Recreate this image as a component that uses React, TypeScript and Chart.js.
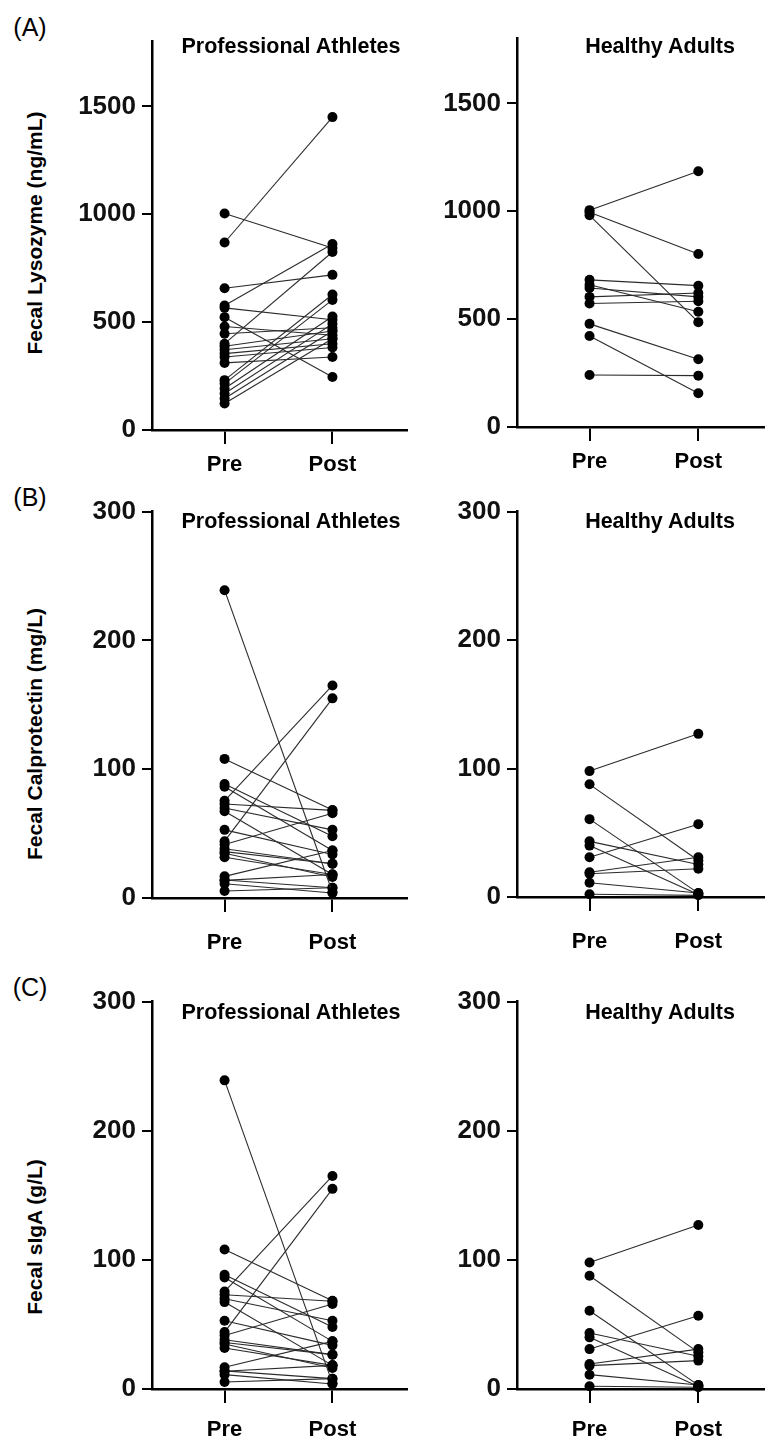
import React, { useEffect, useRef } from 'react';
import { Chart, registerables } from 'chart.js';

Chart.register(...registerables);

const FONT = '"Liberation Sans", Arial, sans-serif';

const timepoints = ['Pre', 'Post'];
const groupTitles = ['Professional Athletes', 'Healthy Adults'];

// (A) Fecal lysozyme (ng/mL)
const lysoTicks = [0, 500, 1000, 1500];
const lysoAthletesPre = [1003, 869, 657, 577, 566, 523, 480, 446, 400, 388, 372, 354, 338, 311, 231, 215, 192, 169, 146, 123];
const lysoAthletesPost = [843, 1450, 719, 862, 511, 246, 439, 474, 825, 459, 423, 400, 382, 338, 628, 603, 526, 492, 459, 423];
const lysoHealthyPre = [1005, 995, 981, 682, 659, 644, 603, 572, 478, 422, 241];
const lysoHealthyPost = [1185, 802, 486, 655, 534, 603, 621, 583, 314, 156, 238];

// (B) Fecal calprotectin (mg/L)
const calTicks = [0, 100, 200, 300];
const calAthletesPre = [239, 108, 88.5, 86.4, 75.5, 73, 69.9, 67.3, 52.9, 44.1, 41.5, 38.2, 36, 34.8, 31.7, 16.8, 13.7, 14, 11.1, 5.4];
const calAthletesPost = [4.5, 68.3, 48, 36.9, 165, 68, 52.9, 18.3, 33.8, 155, 65.8, 26.6, 26.6, 16.3, 18.3, 36.9, 18.3, 8, 3.9, 8];
const calHealthyPre = [98, 87.7, 60.6, 43.3, 40, 30.9, 19.3, 18.1, 11.1, 2.1];
const calHealthyPost = [127, 28.4, 3, 25.3, 2, 56.7, 30.9, 22, 3.1, 1.3];

// (C) Fecal sIgA (g/L)
const igaTicks = [0, 100, 200, 300];
const igaAthletesPre = [239, 108, 88.5, 86.4, 75.5, 73, 69.9, 67.3, 52.9, 44.1, 41.5, 38.2, 36, 34.8, 31.7, 16.8, 13.7, 14, 11.1, 5.4];
const igaAthletesPost = [4.5, 68.3, 48, 36.9, 165, 68, 52.9, 18.3, 33.8, 155, 65.8, 26.6, 26.6, 16.3, 18.3, 36.9, 18.3, 8, 3.9, 8];
const igaHealthyPre = [98, 87.7, 60.6, 43.3, 40, 30.9, 19.3, 18.1, 11.1, 2.1];
const igaHealthyPost = [127, 28.4, 3, 25.3, 2, 56.7, 30.9, 22, 3.1, 1.3];

const Y_W = 92;
const X_H = 70;
const PAD_TOP = 20;

type PanelProps = {
  left: number; top: number; right: number; bottom: number;
  pre: number[]; post: number[]; yMax: number; ticks: number[];
  xMin: number; xMax: number; labelPad: number;
};

function Panel({ left, top, right, bottom, pre, post, yMax, ticks, xMin, xMax, labelPad }: PanelProps) {
  const ref = useRef<HTMLCanvasElement | null>(null);
  const cl = left - Y_W;
  const ct = top - PAD_TOP;
  const w = right - cl;
  const h = bottom - ct + X_H;
  useEffect(() => {
    if (!ref.current) return;
    const datasets = pre.map((v, i) => ({
      data: [{ x: 0, y: v }, { x: 1, y: post[i] }],
      borderColor: '#2b2b2b',
      borderWidth: 1.1,
      pointRadius: 5,
      pointHoverRadius: 5,
      pointBackgroundColor: '#000',
      pointBorderColor: '#000',
      pointBorderWidth: 0,
      showLine: true,
      clip: false as any,
    }));
    const chart = new Chart(ref.current, {
      type: 'line',
      data: { datasets },
      options: {
        animation: false,
        responsive: false,
        maintainAspectRatio: false,
        devicePixelRatio: 1,
        events: [],
        layout: { padding: { top: PAD_TOP, left: 0, right: 0, bottom: 0 } },
        plugins: { legend: { display: false }, tooltip: { enabled: false }, title: { display: false } },
        scales: {
          x: {
            type: 'linear',
            min: xMin,
            max: xMax,
            afterBuildTicks: (s: any) => { s.ticks = timepoints.map((_, i) => ({ value: i })); },
            afterFit: (s: any) => { s.height = X_H; },
            ticks: {
              callback: (v: any) => timepoints[v] ?? '',
              font: { family: FONT, size: 22, weight: 'bold' },
              color: '#000',
              padding: labelPad,
              maxRotation: 0,
              autoSkip: false,
            },
            grid: { drawOnChartArea: false, drawTicks: true, tickLength: 14, color: '#000', tickColor: '#000', lineWidth: 2, tickWidth: 2 },
            border: { display: true, color: '#000', width: 2.5 },
          },
          y: {
            type: 'linear',
            min: 0,
            max: yMax,
            afterBuildTicks: (s: any) => { s.ticks = ticks.map((v) => ({ value: v })); },
            afterFit: (s: any) => { s.width = Y_W; },
            ticks: {
              callback: (v: any) => String(v),
              font: { family: FONT, size: 26, weight: 'bold' },
              color: '#111',
              padding: 6,
            },
            grid: { drawOnChartArea: false, drawTicks: true, tickLength: 10, color: '#000', tickColor: '#000', lineWidth: 2, tickWidth: 2 },
            border: { display: true, color: '#000', width: 2.5 },
          },
        },
      } as any,
    });
    return () => chart.destroy();
  }, []);
  return (
    <canvas
      ref={ref}
      width={w}
      height={h}
      style={{ position: 'absolute', left: cl, top: ct, width: w, height: h }}
    />
  );
}

const textBase: React.CSSProperties = {
  position: 'absolute',
  fontFamily: FONT,
  color: '#000',
  whiteSpace: 'nowrap',
  lineHeight: 1,
};

function Label({ text, cx, cy, size, bold, rotate }: { text: string; cx: number; cy: number; size: number; bold?: boolean; rotate?: boolean }) {
  return (
    <div
      style={{
        ...textBase,
        left: cx,
        top: cy,
        fontSize: size,
        fontWeight: bold ? 'bold' : 'normal',
        transform: `translate(-50%, -50%)${rotate ? ' rotate(-90deg)' : ''}`,
      }}
    >
      {text}
    </div>
  );
}

const LX = { left: 152, right: 412, xMin: -74 / 110, xMax: 186 / 110 };
const RX = { left: 517, right: 769, xMin: -74 / 111, xMax: 178 / 111 };

export default function App() {
  return (
    <div style={{ position: 'absolute', left: 0, top: 0, width: 769, height: 1441, background: '#fff', overflow: 'hidden' }}>
      <Panel {...LX} top={40} bottom={430} labelPad={8} pre={lysoAthletesPre} post={lysoAthletesPost} yMax={1800} ticks={lysoTicks} />
      <Panel {...RX} top={37} bottom={427} labelPad={8} pre={lysoHealthyPre} post={lysoHealthyPost} yMax={1800} ticks={lysoTicks} />
      <Panel {...LX} top={510} bottom={898} labelPad={18} pre={calAthletesPre} post={calAthletesPost} yMax={300} ticks={calTicks} />
      <Panel {...RX} top={510} bottom={897} labelPad={18} pre={calHealthyPre} post={calHealthyPost} yMax={300} ticks={calTicks} />
      <Panel {...LX} top={1000} bottom={1389} labelPad={14} pre={igaAthletesPre} post={igaAthletesPost} yMax={300} ticks={igaTicks} />
      <Panel {...RX} top={1000} bottom={1389} labelPad={14} pre={igaHealthyPre} post={igaHealthyPost} yMax={300} ticks={igaTicks} />

      <Label text="(A)" cx={30} cy={27} size={25} />
      <Label text="(B)" cx={30} cy={497} size={25} />
      <Label text="(C)" cx={30} cy={987} size={25} />

      <Label text={groupTitles[0]} cx={291} cy={47} size={21.5} bold />
      <Label text={groupTitles[1]} cx={660} cy={47} size={21.5} bold />
      <Label text={groupTitles[0]} cx={291} cy={522} size={21.5} bold />
      <Label text={groupTitles[1]} cx={660} cy={522} size={21.5} bold />
      <Label text={groupTitles[0]} cx={291} cy={1013} size={21.5} bold />
      <Label text={groupTitles[1]} cx={660} cy={1013} size={21.5} bold />

      <Label text="Fecal Lysozyme (ng/mL)" cx={34} cy={233} size={21} bold rotate />
      <Label text="Fecal Calprotectin (mg/L)" cx={34} cy={734} size={21} bold rotate />
      <Label text="Fecal sIgA (g/L)" cx={34} cy={1237} size={21} bold rotate />
    </div>
  );
}
